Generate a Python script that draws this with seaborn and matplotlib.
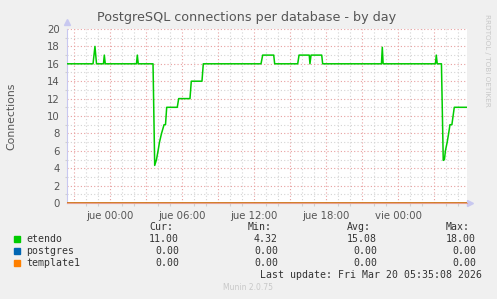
import matplotlib
matplotlib.use("Agg")
import matplotlib.pyplot as plt
import seaborn as sns
import pandas as pd
from matplotlib.ticker import FixedLocator, FixedFormatter, MultipleLocator

# ---- data (hours relative to Thu 00:00) ----
etendo_hours = [-3.61, -1.44, -1.28, -1.15, -0.57, -0.50, -0.42, 2.18, 2.25, 2.33,
                3.56, 3.70, 3.85, 3.98, 4.10, 4.27, 4.48, 4.60, 4.70, 5.58, 5.70,
                6.64, 6.75, 7.64, 7.75, 12.56, 12.70, 13.62, 13.70, 15.62, 15.73,
                16.58, 16.64, 16.73, 17.62, 17.70, 22.60, 22.67, 22.74, 27.10,
                27.17, 27.25, 27.60, 27.75, 27.85, 27.93, 28.08, 28.20, 28.31,
                28.47, 28.67, 29.73]
etendo_values = [16, 16, 18, 16, 16, 17, 16, 16, 17, 16,
                 16, 4.32, 5.0, 6.0, 7.0, 8.0, 9.0, 9.0, 11, 11, 12,
                 12, 14, 14, 16, 16, 17, 17, 16, 16, 17,
                 17, 16, 17, 17, 16, 16, 17.9, 16, 16,
                 17, 16, 16, 4.9, 5.0, 6.0, 7.0, 8.0, 9.0,
                 9.0, 11, 11]
zero_hours = [-3.61, 29.73]
postgres_values = [0, 0]
template1_values = [0, 0]

series_names = ["etendo", "postgres", "template1"]
series_colors = ["#00CC00", "#0066B3", "#FF8000"]
tick_hours = [0, 6, 12, 18, 24]
tick_labels = ["jue 00:00", "jue 06:00", "jue 12:00", "jue 18:00", "vie 00:00"]
cur_vals = ["11.00", "0.00", "0.00"]
min_vals = ["4.32", "0.00", "0.00"]
avg_vals = ["15.08", "0.00", "0.00"]
max_vals = ["18.00", "0.00", "0.00"]

df = pd.concat([
    pd.DataFrame({"hour": etendo_hours, "value": etendo_values, "db": "etendo"}),
    pd.DataFrame({"hour": zero_hours, "value": postgres_values, "db": "postgres"}),
    pd.DataFrame({"hour": zero_hours, "value": template1_values, "db": "template1"}),
])

sns.set_style("white")
plt.rcParams["font.family"] = ["DejaVu Sans"]

W, H = 497, 299
fig = plt.figure(figsize=(W / 100, H / 100), dpi=100, facecolor="#F0F0F0")
ax = fig.add_axes([67 / W, (H - 203) / H, 400 / W, 174 / H])
ax.set_facecolor("white")

# grid
for h in range(-3, 30):
    col = "#E8A0A0" if h % 3 == 0 else "#D4D4D4"
    ax.axvline(h, color=col, lw=0.8, ls=(0, (1, 2)), zorder=0)
for v in range(1, 21):
    col = "#E8A0A0" if v % 2 == 0 else "#D4D4D4"
    ax.axhline(v, color=col, lw=0.8, ls=(0, (1, 2)), zorder=0)

for name, color in zip(series_names, series_colors):
    sub = df[df["db"] == name]
    sns.lineplot(data=sub, x="hour", y="value", color=color, lw=1.1,
                 ax=ax, sort=False, estimator=None, legend=False, zorder=3)

ax.set_xlim(-3.61, 29.73)
ax.set_ylim(0, 20)
for s in ["top", "right"]:
    ax.spines[s].set_visible(False)
ax.spines["left"].set_color("#C8C8F0")
ax.spines["left"].set_linewidth(0.8)
ax.spines["bottom"].set_color("#E8A090")
ax.spines["bottom"].set_linewidth(0.8)

major_x = list(range(-3, 30, 3))
ax.xaxis.set_major_locator(FixedLocator(major_x))
ax.xaxis.set_major_formatter(FixedFormatter(
    [tick_labels[tick_hours.index(h)] if h in tick_hours else "" for h in major_x]))
ax.xaxis.set_minor_locator(MultipleLocator(1))
ax.yaxis.set_major_locator(MultipleLocator(2))
ax.yaxis.set_minor_locator(MultipleLocator(1))
ax.tick_params(axis="x", which="major", length=3, width=0.8, color="#E8A0A0",
               labelsize=7.3, labelcolor="#555555", pad=3)
ax.tick_params(axis="x", which="minor", length=2, width=0.8, color="#D0D0D0", bottom=True)
ax.tick_params(axis="y", which="major", length=2, width=0.8, color="#E8A0A0",
               labelsize=7.3, labelcolor="#555555", pad=3)
ax.tick_params(axis="y", which="minor", length=1.5, width=0.8, color="#D0D0D0", left=True)
ax.set_xlabel("")
ax.set_ylabel("")

# axis arrows
ax.plot([0], [1.04], marker="^", ms=4, color="#C8C8F0", transform=ax.transAxes,
        clip_on=False)
ax.plot([1.008], [0], marker=">", ms=4, color="#C8C8F0", transform=ax.transAxes,
        clip_on=False)

# texts
fig.text(247 / W, 1 - 18 / H, "PostgreSQL connections per database - by day",
         ha="center", va="center", fontsize=9.2, color="#555555")
fig.text(11 / W, 1 - 116 / H, "Connections", rotation=90, ha="center", va="center",
         fontsize=7.8, color="#555555")
fig.text(487 / W, 1 - 60 / H, "RRDTOOL / TOBI OETIKER", rotation=270, ha="center",
         va="center", fontsize=5.2, color="#C8C8C8")

mono = {"family": "DejaVu Sans Mono", "fontsize": 7.1, "color": "#333333"}
row_y = [239, 251, 263]
col_right = [179, 278, 377, 476]
headers = ["Cur:", "Min:", "Avg:", "Max:"]
for xr, hd in zip(col_right, headers):
    fig.text((xr - 6) / W, 1 - 227 / H, hd, ha="right", va="center", **mono)
for i, (name, color) in enumerate(zip(series_names, series_colors)):
    y = 1 - row_y[i] / H
    fig.patches.append(plt.Rectangle((14 / W, y - 3 / H), 6 / W, 6 / H,
                                     transform=fig.transFigure, color=color))
    fig.text(26 / W, y, name, ha="left", va="center", **mono)
    for xr, vals in zip(col_right, [cur_vals, min_vals, avg_vals, max_vals]):
        fig.text(xr / W, y, vals[i], ha="right", va="center", **mono)
fig.text(482 / W, 1 - 275 / H, "Last update: Fri Mar 20 05:35:08 2026",
         ha="right", va="center", **mono)
fig.text(248 / W, 1 - 288 / H, "Munin 2.0.75", ha="center", va="center",
         fontsize=5.5, color="#C8C8C8")

fig.savefig("out.png", dpi=100, facecolor=fig.get_facecolor())
